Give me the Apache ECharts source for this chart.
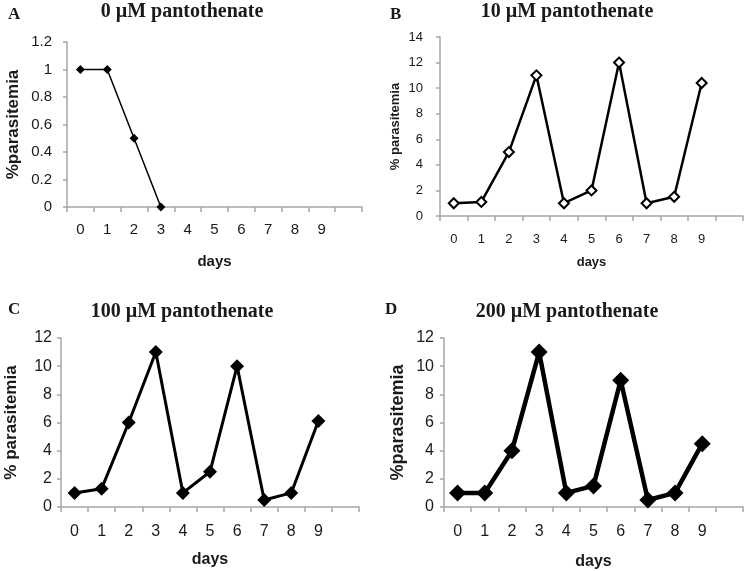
<!DOCTYPE html>
<html><head><meta charset="utf-8">
<script src="https://cdn.jsdelivr.net/npm/echarts@6/dist/echarts.min.js"></script>
<style>html,body{margin:0;padding:0;background:#fff}#c{width:745px;height:571px}</style>
</head><body><div id="c"></div>
<script>
const days = ['0','1','2','3','4','5','6','7','8','9',''];
const panelTitles = ['0 µM pantothenate','10 µM pantothenate','100 µM pantothenate','200 µM pantothenate'];
const panelLetters = ['A','B','C','D'];
const yNames = ['%parasitemia','% parasitemia','% parasitemia','%parasitemia'];
const valuesA = [1, 1, 0.5, 0];
const valuesB = [1, 1.1, 5, 11, 1, 2, 12, 1, 1.5, 10.4];
const valuesC = [1, 1.3, 6, 11, 1, 2.5, 10, 0.5, 1, 6.1];
const valuesD = [1, 1, 4, 11, 1, 1.5, 9, 0.5, 1, 4.5];
const yMax = [1.2, 14, 12, 12];
const yStep = [0.2, 2, 2, 2];

const grids = [
  {left:67, top:42, width:295, height:165},
  {left:440, top:37, width:303, height:179},
  {left:61, top:338, width:298, height:169},
  {left:444, top:338, width:299, height:169}
];
const tickFont = [15, 13, 16, 16];
const nameFont = [17, 13, 17, 18];
const daysFont = [15, 13, 16, 16];
const labMarginX = [15, 17, 17, 17];
const labMarginY = [15, 17, 9, 10];
const daysGap = [47, 40, 45, 47];
const yGap = [45, 38, 41, 37];
const axisGrey = '#a6a6a6';
const txt = '#1a1a1a';

const xAxes = grids.map((g,i)=>({
  type:'category', gridIndex:i, data:days, boundaryGap:true,
  axisLine:{lineStyle:{color:axisGrey,width:1.5}},
  axisTick:{show:true,length:5,lineStyle:{color:axisGrey,width:1.5},alignWithLabel:false},
  axisLabel:{color:txt,fontFamily:'Liberation Sans',fontSize:tickFont[i],margin:labMarginX[i],interval:0},
  name:'days', nameLocation:'middle', nameGap:daysGap[i],
  nameTextStyle:{color:txt,fontFamily:'Liberation Sans',fontWeight:'bold',fontSize:daysFont[i]}
}));
const yAxes = grids.map((g,i)=>({
  type:'value', gridIndex:i, min:0, max:yMax[i], interval:yStep[i],
  splitLine:{show:false},
  axisLine:{show:true,lineStyle:{color:axisGrey,width:1.5}},
  axisTick:{show:true,length:4,lineStyle:{color:axisGrey,width:1.5}},
  axisLabel:{color:txt,fontFamily:'Liberation Sans',fontSize:tickFont[i],margin:labMarginY[i]},
  name:yNames[i], nameLocation:'middle', nameGap:yGap[i], nameRotate:90,
  nameTextStyle:{color:txt,fontFamily:'Liberation Sans',fontWeight:'bold',fontSize:nameFont[i]}
}));

const seriesVals = [valuesA, valuesB, valuesC, valuesD];
const lineW = [1.5, 2.5, 3, 4.5];
const symSize = [9, 10, 14, 17];
const series = seriesVals.map((v,i)=>({
  type:'line', xAxisIndex:i, yAxisIndex:i, data:v,
  symbol:'diamond', symbolSize:symSize[i], showAllSymbol:true,
  lineStyle:{color:'#000',width:lineW[i]},
  itemStyle:{color: i===1 ? '#fff' : '#000', borderColor:'#000', borderWidth: i===1 ? 2 : 0},
  animation:false
}));

const titleCenters = [[177,-3],[562,-3],[177,297],[562,297]];
const letterPos = [[3,1],[385,1],[3,296],[380,296]];
const titles = [];
panelTitles.forEach((t,i)=>{
  titles.push({text:t,left:titleCenters[i][0],top:titleCenters[i][1],textAlign:'center',
    textStyle:{fontFamily:'Liberation Serif',fontWeight:'bold',fontSize:20,color:txt}});
  titles.push({text:panelLetters[i],left:letterPos[i][0],top:letterPos[i][1],
    textStyle:{fontFamily:'Liberation Serif',fontWeight:'bold',fontSize:17,color:txt}});
});

const chart = echarts.init(document.getElementById('c'),null,{renderer:'canvas'});
chart.setOption({animation:false,backgroundColor:'#fff',title:titles,grid:grids,xAxis:xAxes,yAxis:yAxes,series:series});
</script></body></html>
